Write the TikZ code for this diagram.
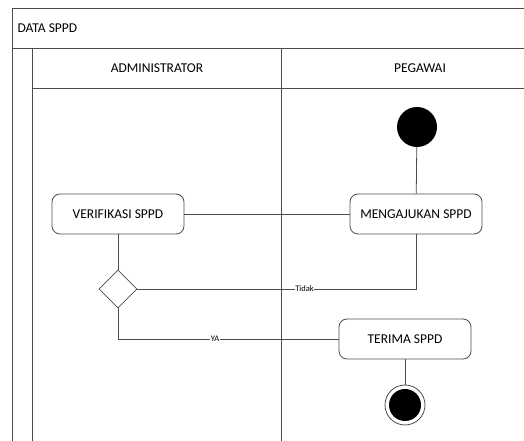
\documentclass[tikz,border=0pt]{standalone}
\usepackage{fontspec}
\setmainfont{Carlito}
\usetikzlibrary{shapes.geometric}
\usetikzlibrary{arrows.meta}

\tikzset{
    garis/.style={draw=black!70, line width=0.8pt},
    aksi/.style={draw=black!70, line width=0.8pt, rounded corners=8pt, minimum width=132pt, minimum height=40pt, inner sep=0pt, font=\fontsize{13.5}{15}\selectfont},
    keputusan/.style={draw=black!70, line width=0.8pt, diamond, minimum width=38pt, minimum height=38pt, inner sep=0pt},
    judul/.style={font=\fontsize{13.5}{15}\selectfont},
    ket/.style={fill=white, inner sep=0.5pt, font=\fontsize{8.5}{9}\selectfont},
    awal/.style={circle, fill=black, minimum size=40pt, inner sep=0pt},
    akhir/.style={circle, draw=black!70, line width=0.8pt, fill=white, minimum size=40pt, inner sep=0pt, path picture={\fill[black] (path picture bounding box.center) circle (16pt);}}
}

\begin{document}
\begin{tikzpicture}[x=1pt,y=1pt]
    \useasboundingbox (0,0) rectangle (524,441);

    % kerangka swimlane
    \draw[garis] (524,433) -- (12,433) -- (12,0);
    \draw[garis] (12,393) -- (524,393);
    \draw[garis] (32,353) -- (524,353);
    \draw[garis] (32,393) -- (32,0);
    \draw[garis] (281,393) -- (281,0);

    \node[judul, anchor=west] (data) at (14,413) {DATA SPPD};
    \node[judul] (admin) at (157,373) {ADMINISTRATOR};
    \node[judul] (pegawai) at (420,373) {PEGAWAI};

    % aktivitas
    \node[awal] (mulai) at (417,314) {};
    \node[aksi] (ajukan) at (416,227) {MENGAJUKAN SPPD};
    \node[aksi] (verif) at (118,227) {VERIFIKASI SPPD};
    \node[keputusan] (cek) at (118,152) {};
    \node[aksi] (terima) at (405,102) {TERIMA SPPD};
    \node[akhir] (selesai) at (405,36) {};

    % alur
    \draw[garis] (mulai) -- (ajukan);
    \draw[garis] (ajukan) -- (verif);
    \draw[garis] (verif) -- (cek);
    \draw[garis] (cek.east) -- (ajukan.south |- cek.east) node[ket, pos=0.6] (tidak) {Tidak} -- (ajukan.south);
    \draw[garis] (cek.south) |- (terima.west) node[ket, pos=0.72] (ya) {YA};
    \draw[garis] (terima) -- (selesai);
\end{tikzpicture}
\end{document}
